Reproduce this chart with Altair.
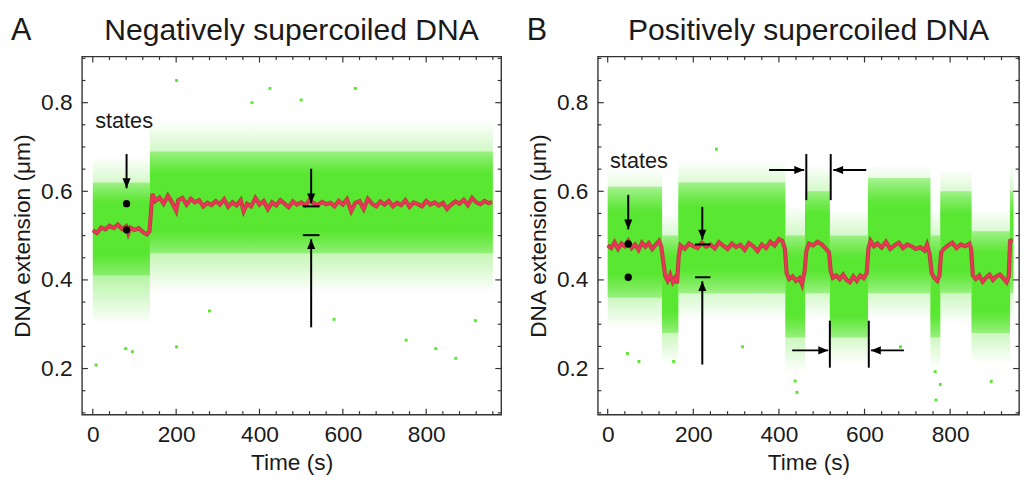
import altair as alt
import pandas as pd

FONT = "Liberation Sans"
GREEN = "74,228,30"

# ---------------- Panel A (negatively supercoiled) ----------------
a_red_t = [0, 10, 20, 30, 40, 50, 60, 70, 80, 85, 90, 100, 110, 120, 130, 136, 140, 143,
           150, 160, 170, 180, 190, 200, 205, 215, 225, 235, 245, 255, 265, 275, 285, 295,
           305, 315, 325, 335, 345, 355, 362, 370, 380, 390, 400, 410, 420, 430, 440, 450,
           460, 470, 480, 490, 500, 510, 520, 530, 540, 550, 560, 570, 580, 590, 600, 610,
           620, 630, 640, 650, 660, 670, 680, 690, 700, 710, 720, 730, 740, 750, 760, 770,
           780, 790, 800, 810, 820, 830, 840, 850, 860, 870, 880, 890, 900, 910, 920, 930,
           940, 950, 958]
a_red_v = [0.512, 0.506, 0.518, 0.514, 0.522, 0.517, 0.525, 0.515, 0.521, 0.505, 0.518, 0.513,
           0.517, 0.508, 0.503, 0.510, 0.560, 0.594, 0.578, 0.586, 0.572, 0.590, 0.575, 0.556,
           0.580, 0.585, 0.570, 0.583, 0.575, 0.580, 0.566, 0.574, 0.569, 0.578, 0.570, 0.582,
           0.565, 0.575, 0.568, 0.580, 0.555, 0.572, 0.566, 0.585, 0.570, 0.578, 0.560, 0.575,
           0.568, 0.580, 0.572, 0.564, 0.577, 0.570, 0.575, 0.568, 0.580, 0.573, 0.569, 0.576,
           0.571, 0.574, 0.566, 0.578, 0.570, 0.582, 0.555, 0.574, 0.578, 0.560, 0.583, 0.572,
           0.566, 0.577, 0.570, 0.578, 0.566, 0.574, 0.569, 0.580, 0.565, 0.575, 0.571, 0.566,
           0.578, 0.570, 0.575, 0.568, 0.574, 0.560, 0.570, 0.577, 0.572, 0.581, 0.569, 0.585,
           0.575, 0.571, 0.578, 0.573, 0.576]
a_seg_start = [0, 137]
a_seg_end = [137, 960]
a_outer_lo = [0.30, 0.37]
a_outer_hi = [0.68, 0.76]
a_core_lo = [0.41, 0.46]
a_core_hi = [0.62, 0.69]
a_out_t = [8, 79, 95, 201, 280, 579, 752, 871, 918, 201, 425, 630, 382, 500, 823]
a_out_v = [0.208, 0.245, 0.238, 0.249, 0.330, 0.311, 0.264, 0.223, 0.308, 0.850, 0.832,
           0.832, 0.800, 0.806, 0.245]

# ---------------- Panel B (positively supercoiled) ----------------
b_red_t = [0, 8, 16, 24, 32, 40, 48, 56, 64, 72, 80, 88, 96, 104, 112, 120, 125, 130, 134,
           140, 146, 152, 158, 162, 166, 170, 180, 190, 200, 210, 220, 230, 240, 250, 260,
           270, 280, 290, 300, 310, 320, 330, 340, 350, 360, 370, 380, 390, 400, 408, 414,
           418, 424, 432, 440, 448, 454, 460, 464, 470, 480, 490, 500, 510, 517, 521, 526,
           534, 542, 550, 558, 566, 574, 582, 590, 598, 605, 609, 614, 622, 630, 640, 650,
           660, 670, 680, 690, 700, 710, 720, 730, 740, 746, 752, 757, 763, 770, 775, 779,
           785, 795, 805, 815, 825, 835, 845, 849, 853, 860, 868, 876, 884, 892, 900, 908,
           916, 924, 932, 937, 940, 946]
b_red_v = [0.478, 0.472, 0.485, 0.470, 0.482, 0.476, 0.488, 0.472, 0.480, 0.468, 0.484, 0.475,
           0.483, 0.470, 0.479, 0.488, 0.476, 0.440, 0.410, 0.398, 0.412, 0.395, 0.405, 0.392,
           0.455, 0.478, 0.470, 0.482, 0.476, 0.472, 0.484, 0.475, 0.480, 0.471, 0.485, 0.477,
           0.470, 0.482, 0.474, 0.479, 0.468, 0.483, 0.476, 0.465, 0.480, 0.472, 0.486, 0.478,
           0.492, 0.488, 0.470, 0.415, 0.402, 0.408, 0.398, 0.404, 0.390, 0.420, 0.465, 0.482,
           0.478, 0.486, 0.480, 0.470, 0.462, 0.420, 0.405, 0.410, 0.402, 0.412, 0.400, 0.395,
           0.408, 0.398, 0.410, 0.404, 0.415, 0.470, 0.488, 0.476, 0.482, 0.473, 0.486, 0.470,
           0.478, 0.484, 0.472, 0.480, 0.476, 0.470, 0.474, 0.466, 0.480, 0.458, 0.415, 0.405,
           0.398, 0.410, 0.462, 0.470, 0.478, 0.484, 0.472, 0.480, 0.476, 0.482, 0.470, 0.410,
           0.402, 0.410, 0.396, 0.405, 0.412, 0.400, 0.408, 0.412, 0.404, 0.395, 0.408, 0.488,
           0.490]
b_seg_start = [0, 127, 165, 415, 461, 519, 608, 754, 777, 850, 940]
b_seg_end = [127, 165, 415, 461, 519, 608, 754, 777, 850, 940, 948]
b_outer_lo = [0.29, 0.21, 0.31, 0.19, 0.31, 0.21, 0.31, 0.20, 0.30, 0.21, 0.31]
b_outer_hi = [0.65, 0.55, 0.67, 0.57, 0.66, 0.56, 0.66, 0.56, 0.65, 0.56, 0.66]
b_core_lo = [0.36, 0.28, 0.37, 0.27, 0.37, 0.27, 0.37, 0.27, 0.37, 0.28, 0.37]
b_core_hi = [0.61, 0.50, 0.62, 0.50, 0.60, 0.50, 0.63, 0.50, 0.60, 0.51, 0.60]
b_out_t = [46, 73, 154, 315, 438, 442, 684, 765, 767, 777, 896, 254]
b_out_v = [0.234, 0.216, 0.216, 0.249, 0.172, 0.146, 0.249, 0.193, 0.129, 0.164, 0.171, 0.695]

y_major = [0.2, 0.4, 0.6, 0.8]
y_minor = [0.1, 0.15, 0.25, 0.3, 0.35, 0.45, 0.5, 0.55, 0.65, 0.7, 0.75, 0.85, 0.9]
x_major = [0, 200, 400, 600, 800]
x_minor = [40, 80, 120, 160, 240, 280, 320, 360, 440, 480, 520, 560, 640, 680, 720, 760, 840,
           880, 920, 960]

DOWN = "M -0.45 -1.1 L 0.45 -1.1 L 0 0 Z"
UP = "M -0.45 1.1 L 0.45 1.1 L 0 0 Z"
RIGHT = "M -1.1 -0.45 L -1.1 0.45 L 0 0 Z"
LEFT = "M 1.1 -0.45 L 1.1 0.45 L 0 0 Z"

a_lines = dict(x=[81, 524, 524, 504, 504], x2=[81, 524, 524, 544, 544],
               y=[0.684, 0.651, 0.293, 0.566, 0.501], y2=[0.607, 0.573, 0.492, 0.566, 0.501])
a_tips = dict(x=[81, 524, 524], y=[0.607, 0.573, 0.492], shape=[DOWN, DOWN, UP])
a_dots = dict(x=[81, 81], y=[0.572, 0.513])
a_states = dict(x=[75], y=[0.758], label=["states"])

b_lines = dict(x=[48, 221, 221, 204, 204, 464, 521, 377, 604, 519, 610, 431, 692],
               x2=[48, 221, 221, 240, 240, 464, 521, 459, 527, 519, 610, 515, 615],
               y=[0.592, 0.565, 0.209, 0.480, 0.406, 0.684, 0.684, 0.648, 0.648, 0.308, 0.308,
                  0.241, 0.241],
               y2=[0.514, 0.491, 0.397, 0.480, 0.406, 0.580, 0.580, 0.648, 0.648, 0.202, 0.202,
                   0.241, 0.241])
b_tips = dict(x=[48, 221, 221, 459, 527, 515, 615], y=[0.514, 0.491, 0.397, 0.648, 0.648, 0.241, 0.241],
              shape=[DOWN, DOWN, UP, RIGHT, LEFT, RIGHT, LEFT])
b_dots = dict(x=[48, 48], y=[0.481, 0.406])
b_states = dict(x=[73], y=[0.669], label=["states"])


def grad(stops):
    return alt.Gradient(gradient="linear", x1=0, x2=0, y1=0, y2=1,
                        stops=[alt.GradientStop(color=f"rgba({GREEN},{a})", offset=o) for o, a in stops])


XAXIS = alt.Axis(values=x_major, title="Time (s)", ticks=False, domain=False, grid=False,
                 labelFontSize=23, titleFontSize=23, labelPadding=9, titlePadding=6,
                 labelFont=FONT, titleFont=FONT, labelColor="#1a1a1a",
                 titleColor="#1a1a1a", titleFontWeight="normal")
YAXIS = alt.Axis(values=y_major, format=".1f", title="DNA extension (μm)", ticks=False,
                 domain=False, grid=False, labelFontSize=23, titleFontSize=23,
                 labelPadding=10, titlePadding=6, labelFont=FONT, titleFont=FONT,
                 labelColor="#1a1a1a", titleColor="#1a1a1a", titleFontWeight="normal")


def panel(letter, title, W, H, xdom, red_t, red_v, seg, out_t, out_v, lines, tips, dots, states):
    xs = alt.Scale(domain=xdom, nice=False, zero=False)
    ys = alt.Scale(domain=[0.096, 0.904], nice=False, zero=False)
    X = lambda f: alt.X(f, scale=xs, axis=XAXIS)
    Y = lambda f: alt.Y(f, scale=ys, axis=YAXIS)

    segdf = pd.DataFrame(dict(s=seg[0], e=seg[1], olo=seg[2], ohi=seg[3], clo=seg[4], chi=seg[5]))
    outer = alt.Chart(segdf).mark_rect(
        fill=grad([(0, 0.0), (0.3, 0.42), (0.7, 0.42), (1, 0.0)])
    ).encode(x=X("s:Q"), x2="e:Q", y=Y("olo:Q"), y2="ohi:Q")
    core = alt.Chart(segdf).mark_rect(
        fill=grad([(0, 0.4), (0.22, 0.85), (0.78, 0.85), (1, 0.4)])
    ).encode(x=X("s:Q"), x2="e:Q", y=Y("clo:Q"), y2="chi:Q")

    odf = pd.DataFrame(dict(t=out_t, v=out_v))
    outl = alt.Chart(odf).mark_square(size=9, color=f"rgb({GREEN})", opacity=0.9).encode(
        x=X("t:Q"), y=Y("v:Q"))

    rdf = pd.DataFrame(dict(t=red_t, v=red_v))
    red_dark = alt.Chart(rdf).mark_line(color="#b8283a", strokeWidth=4.2, opacity=0.85).encode(
        x=X("t:Q"), y=Y("v:Q"))
    red = alt.Chart(rdf).mark_line(color="#f03358", strokeWidth=2.4).encode(x=X("t:Q"), y=Y("v:Q"))

    ldf = pd.DataFrame(lines)
    lrule = alt.Chart(ldf).mark_rule(color="black", strokeWidth=2).encode(
        x=X("x:Q"), x2="x2:Q", y=Y("y:Q"), y2="y2:Q")
    tdf = pd.DataFrame(tips)
    tip = alt.Chart(tdf).mark_point(filled=True, color="black", size=330, opacity=1).encode(
        x=X("x:Q"), y=Y("y:Q"), shape=alt.Shape("shape:N", scale=None, legend=None))
    ddf = pd.DataFrame(dots)
    dot = alt.Chart(ddf).mark_circle(color="black", size=55, opacity=1).encode(x=X("x:Q"), y=Y("y:Q"))
    sdf = pd.DataFrame(states)
    stx = alt.Chart(sdf).mark_text(font=FONT, fontSize=22, color="#1a1a1a").encode(
        x=X("x:Q"), y=Y("y:Q"), text="label:N")

    layers = [outer, core, outl, red_dark, red, lrule, tip, dot, stx]

    def xt(vals, y0, y1):
        return alt.Chart(pd.DataFrame(dict(v=vals))).mark_rule(color="#333", strokeWidth=1.2).encode(
            x=X("v:Q"), y=alt.value(y0), y2=alt.value(y1))

    def yt(vals, x0, x1):
        return alt.Chart(pd.DataFrame(dict(v=vals))).mark_rule(color="#333", strokeWidth=1.2).encode(
            y=Y("v:Q"), x=alt.value(x0), x2=alt.value(x1))

    layers += [xt(x_major, H, H - 6), xt(x_minor, H, H - 3.5), xt(x_major, 0, 6), xt(x_minor, 0, 3.5),
               yt(y_major, 0, 6), yt(y_minor, 0, 3.5), yt(y_major, W, W - 6), yt(y_minor, W, W - 3.5)]

    hdf = pd.DataFrame(dict(label=[letter]))
    lt = alt.Chart(hdf).mark_text(font=FONT, fontSize=31, color="#1a1a1a", align="left",
                                  baseline="alphabetic").encode(
        x=alt.value(-72), y=alt.value(-17), text="label:N")
    tdf2 = pd.DataFrame(dict(label=[title]))
    tt = alt.Chart(tdf2).mark_text(font=FONT, fontSize=30.5, color="#1a1a1a", align="center",
                                   baseline="alphabetic").encode(
        x=alt.value(W / 2), y=alt.value(-17), text="label:N")
    layers += [lt, tt]
    return alt.layer(*layers).properties(width=W, height=H)


A = panel("A", "Negatively supercoiled DNA", 425, 363, [-26, 980], a_red_t, a_red_v,
          (a_seg_start, a_seg_end, a_outer_lo, a_outer_hi, a_core_lo, a_core_hi),
          a_out_t, a_out_v, a_lines, a_tips, a_dots, a_states)
B = panel("B", "Positively supercoiled DNA", 427, 363, [-23, 961], b_red_t, b_red_v,
          (b_seg_start, b_seg_end, b_outer_lo, b_outer_hi, b_core_lo, b_core_hi),
          b_out_t, b_out_v, b_lines, b_tips, b_dots, b_states)

chart = alt.hconcat(A, B, spacing=23).properties(
    padding={"left": 2, "top": 3, "right": 0, "bottom": 0}
).configure_view(stroke="#333", strokeWidth=1.4)

chart.save("out.html", embed_options={"renderer": "svg", "actions": False})
